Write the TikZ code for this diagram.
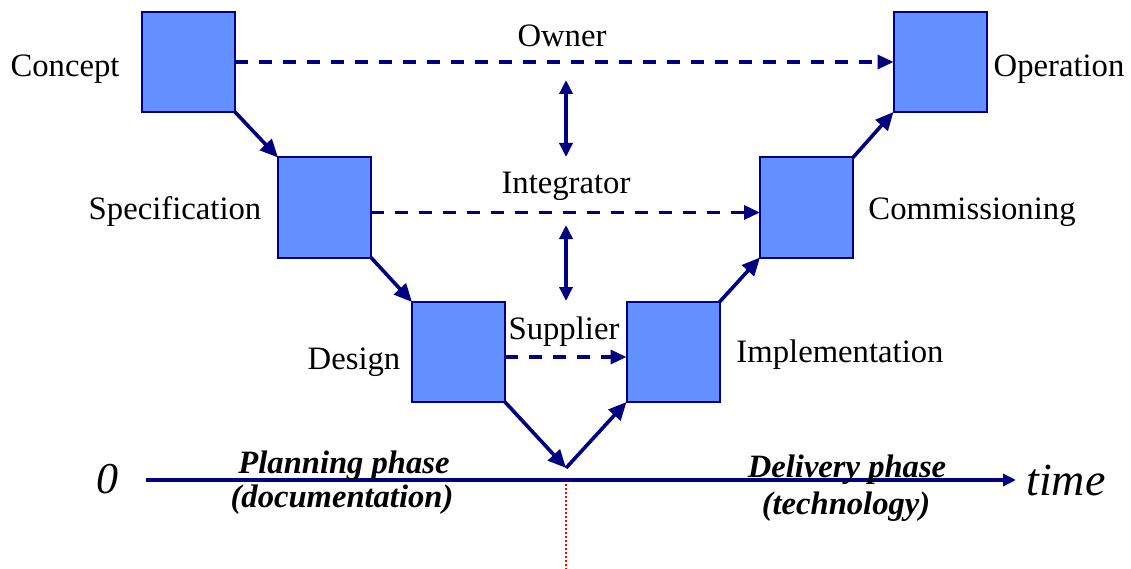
\documentclass[tikz,border=0pt]{standalone}
\usepackage{fontspec}
\setmainfont{Liberation Serif}
\usetikzlibrary{arrows.meta}
\definecolor{navy}{RGB}{0,0,128}
\definecolor{boxfill}{RGB}{98,144,255}
\tikzset{
  phasebox/.style={draw=navy, fill=boxfill, line width=2pt, minimum width=93pt, minimum height=100pt, inner sep=0pt, outer sep=0pt},
  lbl/.style={font=\fontsize{32.7}{36}\selectfont, anchor=base, inner sep=0pt},
  phaselbl/.style={font=\fontsize{32.6}{36}\selectfont\bfseries\itshape, anchor=base, inner sep=0pt},
  flow/.style={navy, line width=3.6pt, -{Triangle[length=18pt,width=16pt]}},
  axis/.style={navy, line width=3.2pt, -{Triangle[length=13pt,width=12pt]}},
  dasharrow/.style={navy, line width=3.4pt, dash pattern=on 13pt off 11pt, -{Triangle[length=16pt,width=14pt]}},
  twoway/.style={navy, line width=3.4pt, {Triangle[length=14pt,width=13pt]}-{Triangle[length=14pt,width=13pt]}},
}
\begin{document}
\begin{tikzpicture}[x=1pt,y=-1pt]
\useasboundingbox (0,0) rectangle (1131,569);
% boxes
\node[phasebox] (concept) at (188.5,62) {};
\node[phasebox] (spec) at (324.5,207.5) {};
\node[phasebox] (design) at (458.5,352) {};
\node[phasebox] (impl) at (673,352) {};
\node[phasebox] (comm) at (806.5,207.5) {};
\node[phasebox] (oper) at (940,62) {};
% labels
\node[lbl] (lconcept) at (65,77) {Concept};
\node[lbl] (lspec) at (175,219) {Specification};
\node[lbl] (ldesign) at (354,369) {Design};
\node[lbl] (limpl) at (840,362) {Implementation};
\node[lbl] (lcomm) at (972,219) {Commissioning};
\node[lbl] (loper) at (1059,77) {Operation};
\node[lbl] (lowner) at (562,47) {Owner};
\node[lbl] (linteg) at (566,194) {Integrator};
\node[lbl] (lsupp) at (564,339) {Supplier};
% coordinates
\coordinate (vtip) at (566,468);
\coordinate (ow1) at (566,80);
\coordinate (ow2) at (566,157);
\coordinate (in1) at (566,225);
\coordinate (in2) at (566,301);
\coordinate (t0) at (146,480);
\coordinate (t1) at (1016,480);
\coordinate (r0) at (566,480);
\coordinate (r1) at (566,569);
% red dotted line
\draw[red, line width=1.6pt, dash pattern=on 2pt off 2pt] (r0) -- (r1);
% time axis
\draw[axis] (t0) -- (t1);
\node[font=\fontsize{44}{48}\selectfont\itshape, anchor=base, inner sep=0pt] (zero) at (107,493) {0};
\node[font=\fontsize{46}{48}\selectfont\itshape, anchor=base, inner sep=0pt] (time) at (1066,495) {time};
\node[phaselbl] (plan1) at (344,473) {Planning phase};
\node[phaselbl] (plan2) at (342,507) {(documentation)};
\node[phaselbl] (del1) at (847,477) {Delivery phase};
\node[phaselbl] (del2) at (846,514) {(technology)};
% V flow
\draw[flow] (concept.south east) -- (spec.north west);
\draw[flow] (spec.south east) -- (design.north west);
\draw[flow] (design.south east) -- (vtip);
\draw[flow] (vtip) -- (impl.south west);
\draw[flow] (impl.north east) -- (comm.south west);
\draw[flow] (comm.north east) -- (oper.south west);
% dashed
\draw[dasharrow] (concept.east) -- (oper.west);
\draw[dasharrow] ([yshift=-5pt]spec.east) -- ([yshift=-5pt]comm.west);
\draw[dasharrow] ([yshift=-5pt]design.east) -- ([yshift=-5pt]impl.west);
% two-way arrows
\draw[twoway] (ow1) -- (ow2);
\draw[twoway] (in1) -- (in2);
\end{tikzpicture}
\end{document}
